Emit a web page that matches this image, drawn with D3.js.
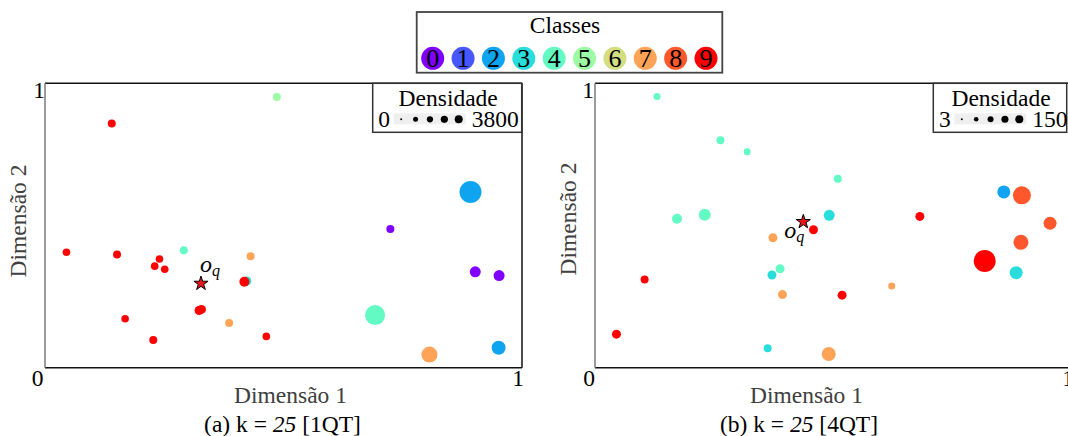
<!DOCTYPE html>
<html>
<head>
<meta charset="utf-8">
<script src="https://cdn.jsdelivr.net/npm/d3@7"></script>
<style>
  html, body { margin: 0; padding: 0; background: #fff; overflow: hidden; }
  svg { display: block; font-family: "Liberation Serif", "Times New Roman", serif; }
</style>
</head>
<body>
<svg id="chart" width="1068" height="436"></svg>
<script>
// ---------------- DATA ----------------
const classLabels = ["0","1","2","3","4","5","6","7","8","9"];
const classColors = ["#8000ff","#4757fb","#0ea4f0","#2adddd","#63fbc3","#9cfba4","#d4dd80","#ffa457","#ff572c","#ff0000"];
const tickLabels = ["0","1"];

// Panel (a) k = 25 [1QT]
const xA = [0.486,0.140,0.045,0.151,0.291,0.240,0.230,0.251,0.431,0.423,0.418,0.328,0.323,0.168,0.386,0.227,0.464,0.892,0.724,0.902,0.952,0.692,0.806,0.951];
const yA = [0.952,0.859,0.406,0.398,0.413,0.382,0.357,0.346,0.392,0.305,0.302,0.205,0.201,0.172,0.157,0.097,0.110,0.618,0.488,0.337,0.324,0.185,0.046,0.070];
const classA = [5,9,9,9,4,9,9,9,7,3,9,9,9,9,7,9,9,2,0,0,0,4,7,2];
const densA = [47,47,30,47,47,30,30,30,47,106,188,106,106,30,47,47,30,3003,47,293,293,2299,1173,750];
const queryA = [0.327, 0.296];
const densRangeA = [0, 3800];

// Panel (b) k = 25 [4QT]
const xB = [0.130,0.263,0.319,0.509,0.172,0.230,0.491,0.458,0.373,0.388,0.371,0.104,0.393,0.518,0.045,0.362,0.490,0.681,0.857,0.895,0.954,0.893,0.817,0.883,0.622];
const yB = [0.954,0.800,0.759,0.664,0.524,0.538,0.536,0.485,0.457,0.348,0.326,0.310,0.257,0.255,0.118,0.068,0.048,0.532,0.618,0.606,0.508,0.441,0.375,0.334,0.287];
const classB = [4,4,4,4,4,4,3,9,7,4,3,9,7,9,9,3,7,9,2,8,8,8,9,3,7];
const densB = [5.4,8.4,5.4,8.4,16.6,27.4,21.6,12.1,12.1,12.1,12.1,8.4,12.1,12.1,12.1,8.4,41,12.1,33.9,76.4,33.9,48.9,122.7,33.9,5.4];
const queryB = [0.4367, 0.513];
const densRangeB = [3, 150];

const xLabel = "Dimensão 1", yLabel = "Dimensão 2";
const captionsPre = ["(a) k = ", "(b) k = "];
const captionsK = ["25", "25"];
const captionsPost = [" [1QT]", " [4QT]"];
const densTitle = "Densidade";
const classTitle = "Classes";

// ---------------- DRAW ----------------
const svg = d3.select("#chart");
const FS = 23.5;

const panels = [
  { xs: xA, ys: yA, cls: classA, dens: densA, q: queryA, dr: densRangeA,
    left: 45, right: 522, legX0: 372.7, legX1: 521.7, zeroX: 37.5, yTickX: 39, oqDx: -1, oqDy: -12,
    xLabX: 290.5, capX: 282.5, yLabX: 26, yLabY: 221 },
  { xs: xB, ys: yB, cls: classB, dens: densB, q: queryB, dr: densRangeB,
    left: 595, right: 1072, legX0: 933.3, legX1: 1066.7, zeroX: 589, yTickX: 588, oqDx: -19, oqDy: 16,
    xLabX: 806.5, capX: 799, yLabX: 576, yLabY: 219 }
];
const frameTop = 83.3, frameBottom = 367.7;

panels.forEach((p, pi) => {
  const g = svg.append("g");
  const x = d3.scaleLinear().domain([0, 1]).range([p.left, p.right]);
  const y = d3.scaleLinear().domain([0, 1]).range([frameBottom, frameTop]);
  const r = d3.scaleSqrt().domain(p.dr).range([3, 12]);

  // frame
  g.append("line").attr("x1", p.left).attr("x2", p.right).attr("y1", frameTop).attr("y2", frameTop).attr("stroke", "#111").attr("stroke-width", 1.5);
  g.append("line").attr("x1", p.left).attr("x2", p.right).attr("y1", frameBottom).attr("y2", frameBottom).attr("stroke", "#111").attr("stroke-width", 1.5);
  g.append("line").attr("x1", p.right).attr("x2", p.right).attr("y1", frameTop).attr("y2", frameBottom).attr("stroke", "#111").attr("stroke-width", 1.5);
  g.append("line").attr("x1", p.left).attr("x2", p.left).attr("y1", frameTop).attr("y2", frameBottom).attr("stroke", "#7a7a7a").attr("stroke-width", 1.5);

  // tick labels
  g.append("text").attr("x", x(0) - (p.left - p.zeroX)).attr("y", y(0) + 18.5).attr("text-anchor", "middle").attr("font-size", FS).text(tickLabels[0]);
  g.append("text").attr("x", x(1) - 4).attr("y", y(0) + 18.5).attr("text-anchor", "middle").attr("font-size", FS).text(tickLabels[1]);
  g.append("text").attr("x", x(0) - (p.left - p.yTickX)).attr("y", y(1) + 14.5).attr("text-anchor", "middle").attr("font-size", FS).text(tickLabels[1]);

  // points
  const idx = d3.range(p.xs.length);
  g.append("g").selectAll("circle").data(idx).join("circle")
    .attr("cx", i => x(p.xs[i])).attr("cy", i => y(p.ys[i]))
    .attr("r", i => r(p.dens[i]))
    .attr("fill", i => classColors[p.cls[i]]);

  // query star
  const qx = x(p.q[0]), qy = y(p.q[1]);
  g.append("path").attr("d", d3.symbol(d3.symbolStar, 62)())
    .attr("transform", `translate(${qx},${qy})`)
    .attr("fill", "#e8141c").attr("stroke", "#000").attr("stroke-width", 1);
  const oq = g.append("text").attr("x", qx + p.oqDx).attr("y", qy + p.oqDy).attr("font-size", 24).attr("font-style", "italic");
  oq.append("tspan").text("o");
  oq.append("tspan").attr("font-size", 16).attr("dy", 4).text("q");

  // density legend
  const lg = g.append("g");
  lg.append("rect").attr("x", p.legX0).attr("y", frameTop).attr("width", p.legX1 - p.legX0).attr("height", 132.3 - frameTop)
    .attr("fill", "#fff").attr("stroke", "#333").attr("stroke-width", 1.5);
  const lcx = (p.legX0 + p.legX1) / 2;
  lg.append("text").attr("x", lcx + 1).attr("y", 105.5).attr("text-anchor", "middle").attr("font-size", FS).text(densTitle);
  const minLab = String(p.dr[0]), maxLab = String(p.dr[1]);
  const rectX = p.legX0 + 21;
  lg.append("text").attr("x", p.legX0 + 11.5).attr("y", 127).attr("text-anchor", "middle").attr("font-size", FS).text(minLab);
  lg.append("rect").attr("x", rectX).attr("y", 113.3).attr("width", 72).attr("height", 11).attr("fill", "#efefef");
  const samples = d3.range(5).map(k => p.dr[0] + (p.dr[1] - p.dr[0]) * k / 4);
  const lx = d3.scalePoint().domain(samples).range([rectX + 7.5, rectX + 65]);
  const lr = d3.scaleSqrt().domain(p.dr).range([1, 4]);
  lg.selectAll("circle.ld").data(samples).join("circle").attr("class", "ld")
    .attr("cx", d => lx(d)).attr("cy", 119.3).attr("r", d => lr(d)).attr("fill", "#000");
  lg.append("text").attr("x", rectX + 78).attr("y", 127).attr("font-size", FS).text(maxLab);

  // axis labels
  g.append("text").attr("x", p.xLabX).attr("y", 403).attr("text-anchor", "middle").attr("font-size", FS).attr("fill", "#404040").text(xLabel);
  g.append("text").attr("transform", `translate(${p.yLabX},${p.yLabY}) rotate(-90)`).attr("text-anchor", "middle").attr("font-size", FS).attr("fill", "#404040").text(yLabel);
  const cap = g.append("text").attr("x", p.capX).attr("y", 431.5).attr("text-anchor", "middle").attr("font-size", FS);
  cap.append("tspan").text(captionsPre[pi]);
  cap.append("tspan").attr("font-style", "italic").text(captionsK[pi]);
  cap.append("tspan").text(captionsPost[pi]);
});

// classes legend
const cl = svg.append("g");
cl.append("rect").attr("x", 416.7).attr("y", 12).attr("width", 722.3 - 416.7).attr("height", 60.7)
  .attr("fill", "#fff").attr("stroke", "#444").attr("stroke-width", 1.8);
cl.append("text").attr("x", 565).attr("y", 33.3).attr("text-anchor", "middle").attr("font-size", FS).text(classTitle);
const cx = d3.scalePoint().domain(classLabels).range([432.7, 706]);
const items = cl.selectAll("g.ci").data(classLabels).join("g").attr("class", "ci")
  .attr("transform", d => `translate(${cx(d)},58.3)`);
items.append("circle").attr("r", 11.5).attr("fill", (d, i) => classColors[i]);
items.append("text").attr("y", 8.5).attr("text-anchor", "middle").attr("font-size", 26).text(d => d);
</script>
</body>
</html>
